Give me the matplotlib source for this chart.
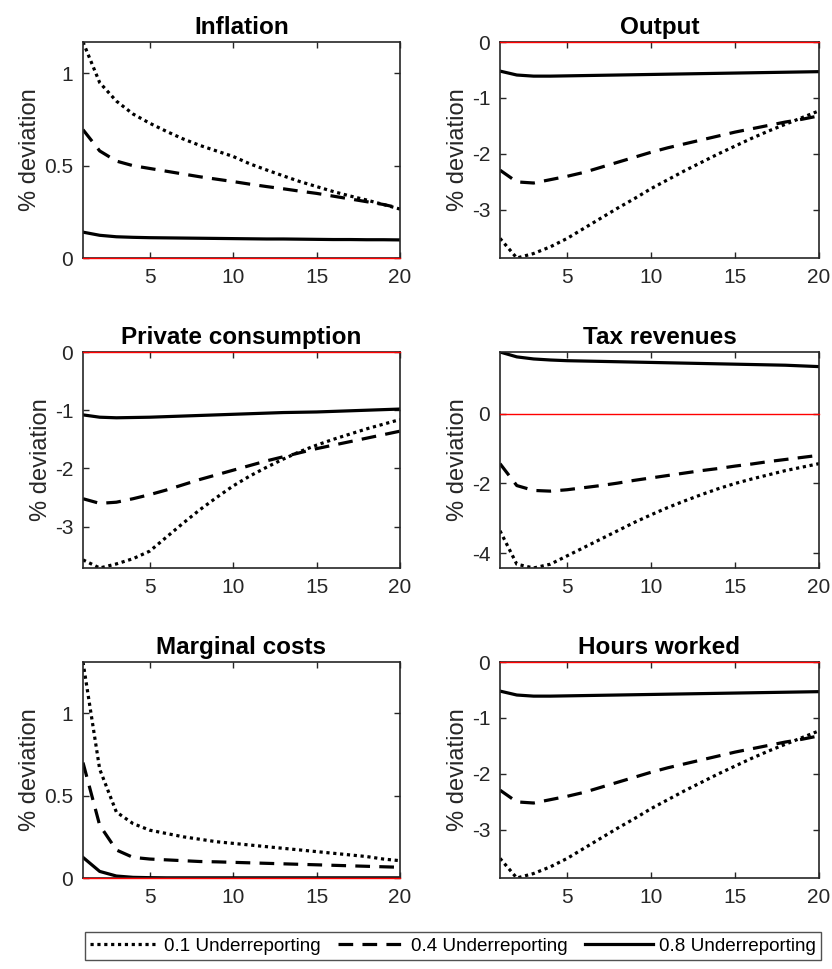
import matplotlib
matplotlib.use("Agg")
import matplotlib.pyplot as plt
import numpy as np

plt.rcParams["font.family"] = ["Liberation Sans", "DejaVu Sans"]
plt.rcParams["axes.unicode_minus"] = False

# Horizon (quarters)
periods = list(range(1, 21))

# Impulse responses (% deviation) for three underreporting levels
inflation_01 = [1.17, 0.95, 0.85, 0.78, 0.73, 0.686, 0.645, 0.61, 0.58, 0.55,
                0.51, 0.477, 0.445, 0.414, 0.387, 0.36, 0.336, 0.314, 0.29, 0.265]
inflation_04 = [0.695, 0.58, 0.525, 0.50, 0.485, 0.47, 0.455, 0.44, 0.427, 0.414,
                0.40, 0.387, 0.375, 0.362, 0.35, 0.335, 0.32, 0.305, 0.29, 0.27]
inflation_08 = [0.14, 0.123, 0.115, 0.112, 0.11, 0.109, 0.108, 0.107, 0.106, 0.105,
                0.104, 0.103, 0.103, 0.102, 0.101, 0.1, 0.1, 0.099, 0.099, 0.098]

output_01 = [-3.51, -3.86, -3.78, -3.66, -3.51, -3.33, -3.15, -2.97, -2.8, -2.62,
             -2.46, -2.3, -2.15, -2.0, -1.86, -1.72, -1.59, -1.47, -1.35, -1.23]
output_04 = [-2.29, -2.5, -2.52, -2.46, -2.40, -2.33, -2.24, -2.15, -2.06, -1.97,
             -1.89, -1.82, -1.75, -1.68, -1.61, -1.55, -1.49, -1.43, -1.38, -1.32]
output_08 = [-0.52, -0.59, -0.61, -0.61, -0.605, -0.60, -0.595, -0.59, -0.585, -0.58,
             -0.575, -0.57, -0.565, -0.56, -0.555, -0.55, -0.545, -0.54, -0.535, -0.53]

consumption_01 = [-3.57, -3.71, -3.64, -3.55, -3.42, -3.18, -2.94, -2.71, -2.5, -2.3,
                  -2.13, -1.98, -1.84, -1.71, -1.6, -1.5, -1.41, -1.32, -1.24, -1.16]
consumption_04 = [-2.52, -2.6, -2.58, -2.52, -2.45, -2.37, -2.28, -2.19, -2.11, -2.03,
                  -1.95, -1.87, -1.8, -1.73, -1.66, -1.6, -1.54, -1.48, -1.42, -1.36]
consumption_08 = [-1.08, -1.12, -1.13, -1.125, -1.12, -1.11, -1.10, -1.09, -1.08, -1.07,
                  -1.06, -1.05, -1.04, -1.035, -1.03, -1.02, -1.01, -1.0, -0.99, -0.98]

tax_01 = [-3.36, -4.32, -4.43, -4.32, -4.08, -3.84, -3.6, -3.36, -3.12, -2.9,
          -2.69, -2.5, -2.32, -2.15, -2.0, -1.87, -1.75, -1.63, -1.53, -1.43]
tax_04 = [-1.43, -2.06, -2.2, -2.22, -2.18, -2.12, -2.06, -1.99, -1.91, -1.84,
          -1.77, -1.7, -1.63, -1.57, -1.5, -1.44, -1.37, -1.31, -1.25, -1.19]
tax_08 = [1.78, 1.64, 1.58, 1.55, 1.53, 1.52, 1.51, 1.5, 1.49, 1.48,
          1.47, 1.46, 1.45, 1.44, 1.43, 1.42, 1.41, 1.4, 1.38, 1.36]

mcost_01 = [1.31, 0.66, 0.40, 0.33, 0.29, 0.27, 0.25, 0.235, 0.22, 0.21,
            0.20, 0.19, 0.18, 0.17, 0.16, 0.15, 0.14, 0.13, 0.115, 0.105]
mcost_04 = [0.70, 0.32, 0.17, 0.125, 0.115, 0.11, 0.105, 0.10, 0.098, 0.095,
            0.092, 0.089, 0.086, 0.083, 0.08, 0.077, 0.074, 0.071, 0.068, 0.065]
mcost_08 = [0.125, 0.04, 0.012, 0.004, 0.002, 0.001, 0.001, 0.001, 0.001, 0.001,
            0.001, 0.001, 0.001, 0.001, 0.001, 0.001, 0.001, 0.001, 0.001, 0.001]

hours_01 = [-3.51, -3.86, -3.78, -3.66, -3.51, -3.33, -3.15, -2.97, -2.8, -2.62,
            -2.46, -2.3, -2.15, -2.0, -1.86, -1.72, -1.59, -1.47, -1.35, -1.23]
hours_04 = [-2.29, -2.5, -2.52, -2.46, -2.40, -2.33, -2.24, -2.15, -2.06, -1.97,
            -1.89, -1.82, -1.75, -1.68, -1.61, -1.55, -1.49, -1.43, -1.38, -1.32]
hours_08 = [-0.52, -0.59, -0.61, -0.61, -0.605, -0.60, -0.595, -0.59, -0.585, -0.58,
            -0.575, -0.57, -0.565, -0.56, -0.555, -0.55, -0.545, -0.54, -0.535, -0.53]

titles = ["Inflation", "Output", "Private consumption",
          "Tax revenues", "Marginal costs", "Hours worked"]
panels = [
    (inflation_01, inflation_04, inflation_08),
    (output_01, output_04, output_08),
    (consumption_01, consumption_04, consumption_08),
    (tax_01, tax_04, tax_08),
    (mcost_01, mcost_04, mcost_08),
    (hours_01, hours_04, hours_08),
]
yticks = [[0, 0.5, 1], [-3, -2, -1, 0], [-3, -2, -1, 0],
          [-4, -2, 0], [0, 0.5, 1], [-3, -2, -1, 0]]
series_labels = ["0.1 Underreporting", "0.4 Underreporting", "0.8 Underreporting"]
xticks = [5, 10, 15, 20]

W, H = 832, 969
fig = plt.figure(figsize=(W / 100, H / 100), dpi=100)

col_left = [83, 500]
col_width = [317, 319]
row_top = [42, 352, 662]
row_height = 216

edge = "#262626"
lw = 2.3
styles = [
    dict(linestyle=(0, (1, 1.15)), dash_capstyle="butt"),
    dict(linestyle=(0, (4.6, 2.9)), dash_capstyle="butt"),
    dict(linestyle="-"),
]

handles = []
for i, (title, data) in enumerate(zip(titles, panels)):
    r, c = divmod(i, 2)
    left = col_left[c] / W
    bottom = 1 - (row_top[r] + row_height) / H
    ax = fig.add_axes([left, bottom, col_width[c] / W, row_height / H])
    lines = []
    for series, st in zip(data, styles):
        ln, = ax.plot(periods, series, color="black", linewidth=lw, **st)
        lines.append(ln)
    if i == 0:
        handles = lines
    allv = np.concatenate([np.asarray(s) for s in data])
    ax.set_xlim(1, 20)
    ax.set_ylim(min(0, allv.min()), max(0, allv.max()))
    ax.axhline(0, color="#ff0000", linewidth=1.0, zorder=6, clip_on=False)
    ax.set_xticks(xticks)
    ax.set_yticks(yticks[i])
    ax.set_yticklabels([("%g" % v) for v in yticks[i]])
    ax.tick_params(direction="in", length=4, width=1.0, colors=edge,
                   labelcolor=edge, labelsize=15, top=True, right=True, pad=7)
    for sp in ax.spines.values():
        sp.set_color(edge)
        sp.set_linewidth(1.2)
    ax.set_title(title, fontsize=17.5, fontweight="bold", pad=6)
    ax.set_ylabel("% deviation", fontsize=17, color=edge, labelpad=2)

leg = fig.legend(handles, series_labels, loc="center",
                 bbox_to_anchor=(453 / W, 1 - 946 / H), ncol=3,
                 frameon=True, fancybox=False, fontsize=13.6,
                 handlelength=3.6, handletextpad=0.3, columnspacing=0.9,
                 borderpad=0.3, edgecolor=edge)
leg.get_frame().set_linewidth(1.0)

fig.savefig("out.png", dpi=100)
